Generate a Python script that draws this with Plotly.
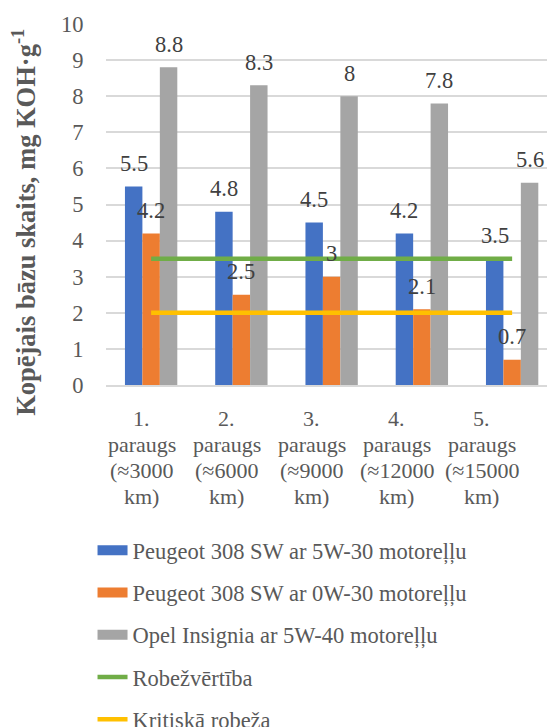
import plotly.graph_objects as go

categories = ["1.<br>paraugs<br>(≈3000<br>km)", "2.<br>paraugs<br>(≈6000<br>km)",
              "3.<br>paraugs<br>(≈9000<br>km)", "4.<br>paraugs<br>(≈12000<br>km)",
              "5.<br>paraugs<br>(≈15000<br>km)"]
peugeot_5w30 = [5.5, 4.8, 4.5, 4.2, 3.5]
peugeot_0w30 = [4.2, 2.5, 3.0, 2.1, 0.7]
opel_5w40 = [8.8, 8.3, 8.0, 7.8, 5.6]
robezvertiba = [3.5, 3.5, 3.5, 3.5, 3.5]
kritiska = [2, 2, 2, 2, 2]

bar_names = ["Peugeot 308 SW ar 5W-30 motoreļļu", "Peugeot 308 SW ar 0W-30 motoreļļu",
             "Opel Insignia ar 5W-40 motoreļļu"]
bar_colors = ["#4472C4", "#ED7D31", "#A5A5A5"]
line_names = ["Robežvērtība", "Kritiskā robeža"]
line_colors = ["#70AD47", "#FFC000"]
y_title = "<b>Kopējais bāzu skaits, mg KOH·g<sup>-1</sup></b>"

FONT = "Liberation Serif"
TXT = "#404040"
AX = "#595959"
BARGAP = 0.42
series = [peugeot_5w30, peugeot_0w30, opel_5w40]

fig = go.Figure()
xs = list(range(len(categories)))
for name, vals, col in zip(bar_names, series, bar_colors):
    fig.add_trace(go.Bar(x=xs, y=vals, name=name,
                         marker=dict(color=col, line=dict(width=0)), showlegend=False))

for name, vals, col in zip(line_names, [robezvertiba, kritiska], line_colors):
    fig.add_trace(go.Scatter(x=xs, y=vals, mode="lines", name=name,
                             line=dict(color=col, width=4.5), showlegend=False))

# legend entries
for i, (name, col) in enumerate(zip(bar_names, bar_colors)):
    fig.add_trace(go.Scatter(x=[None], y=[None], mode="lines", name=name,
                             line=dict(color=col, width=11), legendgroup=f"g{i}", legendrank=i + 1))
for j, (name, col) in enumerate(zip(line_names, line_colors)):
    fig.add_trace(go.Scatter(x=[None], y=[None], mode="lines", name=name,
                             line=dict(color=col, width=4.5), legendgroup=f"l{j}", legendrank=10 + j))

# data labels above bars
bw = (1 - BARGAP) / len(series)
annotations = []
for k, vals in enumerate(series):
    off = (k - (len(series) - 1) / 2) * bw
    for i, v in enumerate(vals):
        annotations.append(dict(x=i + off, y=v, xref="x", yref="y", text=f"{v:g}",
                                showarrow=False, yanchor="middle", xanchor="center", yshift=23,
                                font=dict(family=FONT, size=22.5, color=TXT)))

# category labels (one text per line, tighter line spacing; slightly compressed like the original)
for i, cat in enumerate(categories):
    for j, line in enumerate(cat.split("<br>")):
        annotations.append(dict(x=i, y=0, xref="x", yref="paper", text=line, showarrow=False,
                                xanchor="center", yanchor="middle",
                                xshift=-(9.5 + 5.25 * i), yshift=-(33 + j * 26.3),
                                font=dict(family=FONT, size=22, color=AX)))

annotations.append(dict(x=-0.183, y=0.4515, xref="paper", yref="paper", text=y_title,
                        textangle=-90, showarrow=False, xanchor="center", yanchor="middle",
                        font=dict(family=FONT, size=26.5, color=AX)))

fig.update_layout(
    width=547, height=719,
    margin=dict(l=98, r=0, t=16, b=342, autoexpand=False),
    paper_bgcolor="white", plot_bgcolor="white",
    font=dict(family=FONT, size=22.5, color=AX),
    barmode="group", bargap=BARGAP, bargroupgap=0,
    xaxis=dict(range=[-0.5, 4.475], tickmode="array", tickvals=xs, showticklabels=False,
               showgrid=False, automargin=False, ticks="",
               showline=True, linecolor="#d9d9d9", linewidth=1.5, zeroline=False),
    yaxis=dict(range=[0, 10], dtick=1, showgrid=True, gridcolor="#d9d9d9", gridwidth=1.5,
               zeroline=False, tickfont=dict(family=FONT, size=22.5, color=AX), automargin=False,
               ticks="outside", ticklen=17, tickcolor="rgba(0,0,0,0)"),
    legend=dict(x=-0.03, xanchor="left", y=-0.399, yanchor="top",
                font=dict(family=FONT, size=22.5, color=AX), tracegroupgap=10,
                bgcolor="rgba(0,0,0,0)"),
    annotations=annotations,
    showlegend=True,
)

fig.write_html("out.html")
